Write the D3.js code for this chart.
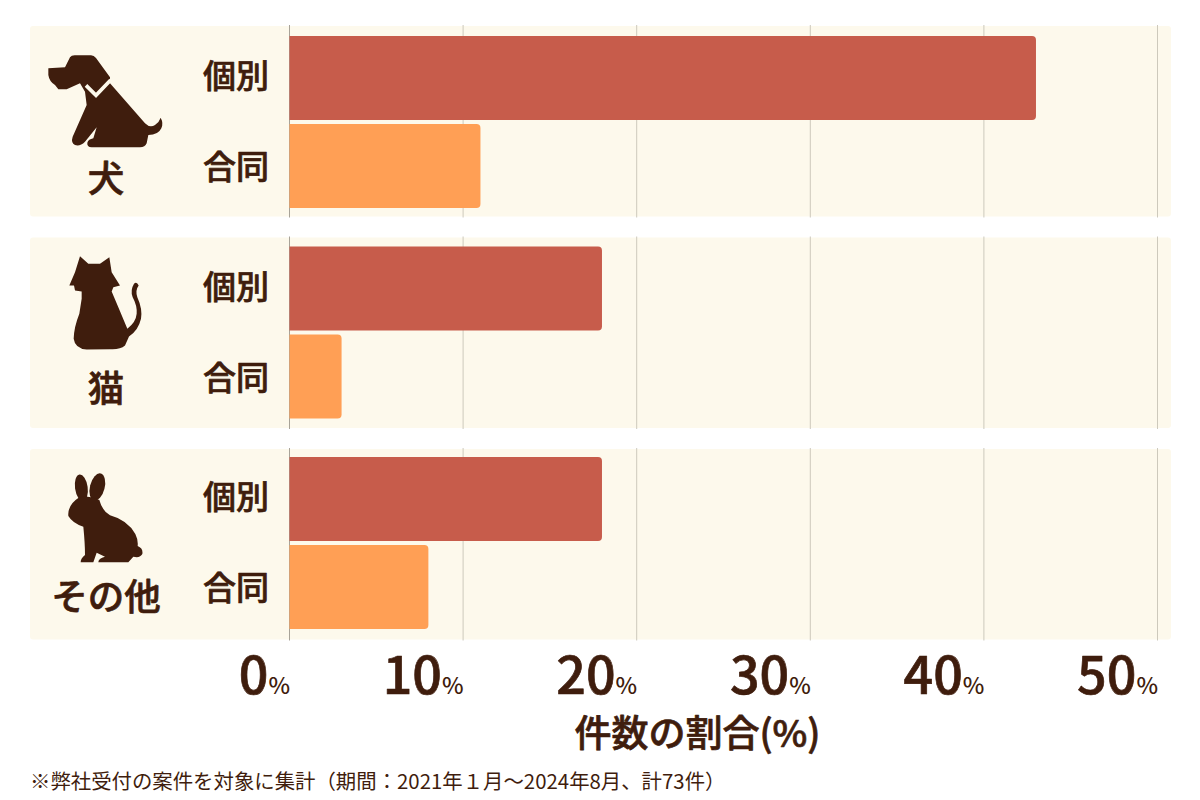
<!DOCTYPE html>
<html lang="ja">
<head>
<meta charset="utf-8">
<script src="https://cdn.jsdelivr.net/npm/d3@7/dist/d3.min.js"></script>
<style>
  html, body { margin: 0; padding: 0; background: #fff; }
  svg { display: block; }
  text { font-family: "Noto Sans CJK JP", "Noto Sans", sans-serif; fill: #3f1d0d; }
  /* Thickened medium weight gives the headings soft, rounded stroke ends */
  .soft { font-weight: 500; stroke: #3f1d0d; stroke-width: 0.7; stroke-linejoin: round; stroke-linecap: round; }
</style>
</head>
<body>
<svg id="chart" width="1200" height="800"></svg>
<script>
// Share of consultations by animal and cremation type
const animals = ["犬", "猫", "その他"];
const kinds = ["個別", "合同"];
const individualShare = [43, 18, 18];
const jointShare = [11, 3, 8];
const percentTicks = [0, 10, 20, 30, 40, 50];
const axisTitle = "件数の割合(%)";
const footnote = "※弊社受付の案件を対象に集計（期間：2021年１月～2024年8月、計73件）";

const INK = "#3f1d0d", PANEL = "#fdf9ec";
const kindColor = { "個別": "#c75c4b", "合同": "#ff9f55" };

// Silhouettes are authored at three times their drawn size, origin at the panel's left edge
const icons = {
  "犬": g => {
    g.append("path").attr("d", "M55 145 L105 142 L120 112 Q124 106 134 106 L183 106 Q192 106 198 114 L240 172 L240 190 L345 310 Q360 325 375 315 Q388 306 392 293 Q401 310 394 325 Q385 345 355 345 L350 370 Q345 382 330 382 L185 382 Q170 380 172 368 Q175 358 190 355 L200 322 L165 365 Q150 380 135 375 Q122 368 128 350 L170 255 L165 215 L150 190 L110 208 L85 208 L75 195 Q58 185 55 165 Z").attr("fill", INK);
    g.append("path").attr("d", "M168 196 L198 226 L242 180").attr("fill", "none").attr("stroke", PANEL).attr("stroke-width", 11);
  },
  "猫": g => {
    g.append("path").attr("d", "M150 77 L175 100 L210 100 L238 80 L245 125 L270 165 L250 170 L245 183 L265 230 L292 295 Q318 275 320 250 Q322 225 308 200 Q300 180 312 160 Q320 152 326 165 Q315 180 322 200 Q338 235 333 265 Q325 300 297 318 L285 345 Q270 358 240 356 L170 357 Q135 355 131 325 Q132 290 148 250 L155 205 L155 183 L135 180 L132 165 L118 165 L135 125 Z").attr("fill", INK);
  },
  "その他": g => {
    g.append("ellipse").attr("transform", "translate(154,143) rotate(-8)").attr("rx", 19).attr("ry", 40).attr("fill", INK);
    g.append("ellipse").attr("transform", "translate(202,141) rotate(14)").attr("rx", 22).attr("ry", 42).attr("fill", INK);
    g.append("path").attr("d", "M148 172 Q178 164 208 180 Q216 212 240 226 Q292 240 316 282 Q325 300 323 318 Q340 325 337 342 Q330 355 310 350 L295 367 L205 367 Q205 355 225 350 L200 338 L190 367 L152 367 Q152 355 165 345 Q165 310 160 260 Q128 250 115 228 Q112 195 148 172 Z").attr("fill", INK);
  }
};

const svg = d3.select("#chart");

const x = d3.scaleLinear().domain([0, 50]).range([289.5, 1157.5]);
const panelY = d3.scaleBand().domain(animals).range([26, 639.5]).paddingInner(21 / 211.5);
// Bar groups step a touch tighter than the panels behind them
const groupY = d3.scaleBand().domain(animals).range([36, 629]).paddingInner(38.5 / 210.5);
const barY = d3.scaleBand().domain(kinds).range([0, groupY.bandwidth()]).paddingInner(4 / 88);

const rows = animals.map((animal, i) => ({
  animal,
  values: [
    { kind: kinds[0], value: individualShare[i] },
    { kind: kinds[1], value: jointShare[i] }
  ]
}));

const panels = svg.selectAll("g.panel").data(rows).join("g")
  .attr("class", "panel")
  .attr("transform", d => `translate(0,${panelY(d.animal)})`);

panels.append("rect")
  .attr("x", 30).attr("y", 0)
  .attr("width", 1141).attr("height", panelY.bandwidth())
  .attr("rx", 3).attr("fill", PANEL);

// Vertical gridlines, baseline a little darker
panels.selectAll("line.grid").data(percentTicks).join("line")
  .attr("class", "grid")
  .attr("x1", d => x(d)).attr("x2", d => x(d))
  .attr("y1", -1).attr("y2", panelY.bandwidth() + 1)
  .attr("stroke", d => d === 0 ? "#a8a398" : "#cdc9bc")
  .attr("stroke-width", 1);

// Bars: square at the baseline, rounded at the value end
function barPath(d) {
  const r = 4, x0 = x(0), x1 = x(d.value), y0 = barY(d.kind), y1 = y0 + barY.bandwidth();
  const p = d3.path();
  p.moveTo(x0, y0);
  p.lineTo(x1 - r, y0);
  p.arcTo(x1, y0, x1, y0 + r, r);
  p.lineTo(x1, y1 - r);
  p.arcTo(x1, y1, x1 - r, y1, r);
  p.lineTo(x0, y1);
  p.closePath();
  return p.toString();
}
const groups = svg.selectAll("g.group").data(rows).join("g")
  .attr("class", "group")
  .attr("transform", d => `translate(0,${groupY(d.animal)})`);

groups.selectAll("path.bar").data(d => d.values).join("path")
  .attr("class", "bar")
  .attr("d", barPath)
  .attr("fill", d => kindColor[d.kind]);

// Kind labels beside each bar
groups.selectAll("text.kind").data(d => d.values).join("text")
  .attr("class", "kind soft")
  .attr("x", 236)
  .attr("y", d => barY(d.kind) + barY.bandwidth() / 2 - 1 + (d.kind === kinds[0] ? -3 : 0))
  .attr("text-anchor", "middle")
  .attr("dominant-baseline", "central")
  .attr("font-size", 33)
  .text(d => d.kind);

// Animal silhouette and name
panels.append("g")
  .attr("transform", (d, i) => `translate(30,${[-6, -7, -9][i]}) scale(${1 / 3})`)
  .each(function (d) { icons[d.animal](d3.select(this)); });

panels.append("text")
  .attr("class", "soft")
  .attr("x", 106).attr("y", (d, i) => [150, 149, 145][i])
  .attr("text-anchor", "middle")
  .attr("dominant-baseline", "central")
  .attr("font-size", 36.5)
  .text(d => d.animal);

// Percent axis: large figures with a small percent sign, right-aligned to the gridline
const axis = svg.append("g")
  .attr("transform", "translate(0,650)")
  .call(d3.axisBottom(x).tickValues(percentTicks).tickSize(0).tickPadding(0).tickFormat(d => d));
axis.select(".domain").remove();
axis.selectAll(".tick text").each(function (d) {
  const t = d3.select(this);
  t.text(null)
    .attr("y", 44).attr("dy", null)
    .attr("x", 0)
    .attr("text-anchor", "end");
  t.append("tspan").attr("class", "soft").attr("font-size", 52).attr("font-family", "'Noto Sans CJK JP'").text(d);
  t.append("tspan").attr("font-size", 23).attr("font-weight", 500).attr("font-family", "'Noto Sans CJK JP'").text("%");
});

svg.append("text")
  .attr("class", "soft")
  .attr("x", 697.5).attr("y", 747)
  .attr("text-anchor", "middle")
  .attr("font-size", 37)
  .text(axisTitle);

svg.append("text")
  .attr("x", 30).attr("y", 789)
  .attr("font-size", 20.4)
  .text(footnote);
</script>
</body>
</html>
